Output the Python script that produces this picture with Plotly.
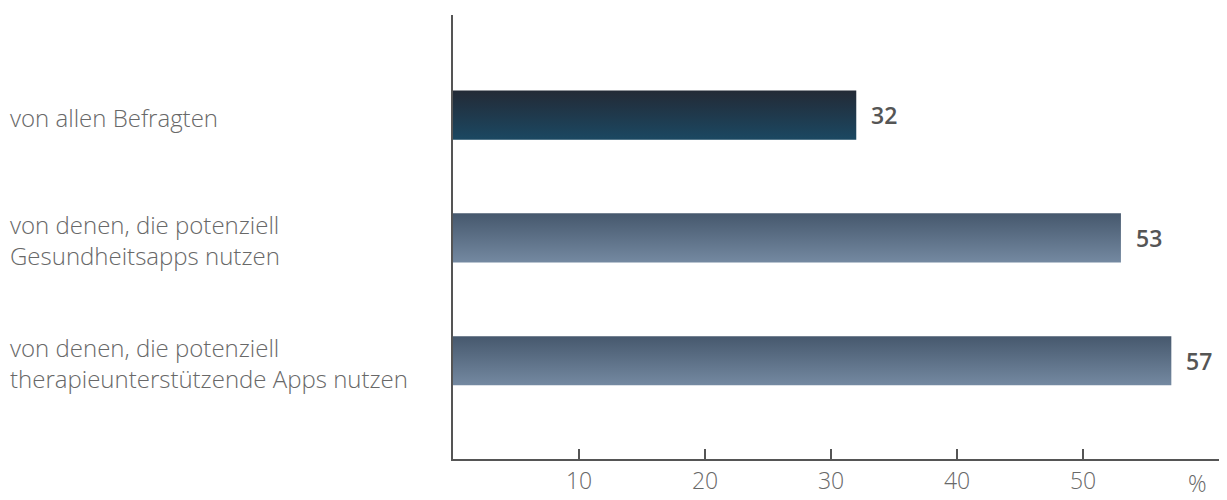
import plotly.graph_objects as go

# Data
categories = [
    "von allen Befragten",
    "von denen, die potenziell<br>Gesundheitsapps nutzen",
    "von denen, die potenziell<br>therapieunterstützende Apps nutzen",
]
values = [32, 53, 57]
tick_values = [10, 20, 30, 40, 50]
tick_labels = ["10", "20", "30", "40", "50"]
unit_label = "%"

# Styles
gradients = [
    ("#232a36", "#1b4862"),   # top, bottom
    ("#46586d", "#7489a1"),
    ("#46586d", "#7489a1"),
]
bar_half = 0.2
font_family = "Open Sans"
text_color = "#686868"
axis_color = "#555555"

fig = go.Figure()
for i, (cat, v) in enumerate(zip(categories, values)):
    top, bottom = gradients[i]
    y0, y1 = i - bar_half, i + bar_half
    fig.add_trace(go.Scatter(
        x=[0, v, v, 0, 0],
        y=[y0, y0, y1, y1, y0],
        mode="lines",
        line=dict(width=0),
        fill="toself",
        fillgradient=dict(type="vertical", colorscale=[[0, bottom], [1, top]]),
        hoverinfo="text",
        text=f"{cat.replace('<br>', ' ')}: {v}",
        showlegend=False,
    ))
    fig.add_annotation(
        x=v, y=i, text=f"{v}", showarrow=False,
        xanchor="left", xshift=13,
        font=dict(family=font_family, size=23, color="#555555", weight=600),
    )
    fig.add_annotation(
        x=0, y=i, xref="paper", text=cat, showarrow=False,
        xanchor="left", align="left", xshift=-445, yshift=-2,
        font=dict(family=font_family, size=24, color=text_color, weight=300),
    )

fig.add_annotation(
    x=60, y=0, yref="paper", text=unit_label, showarrow=False,
    xanchor="right", yanchor="top", yshift=-6,
    font=dict(family=font_family, size=23, color=text_color, weight=300),
)

fig.update_xaxes(
    range=[0, 61.1], showgrid=False, zeroline=False,
    showline=True, linecolor=axis_color, linewidth=2,
    ticks="inside", ticklen=10, tickwidth=2, tickcolor=axis_color,
    tickvals=tick_values, ticktext=tick_labels,
    tickfont=dict(family=font_family, size=23, color=text_color, weight=300),
)
fig.update_yaxes(
    range=[2.8, -0.815], showgrid=False, zeroline=False,
    showline=True, linecolor=axis_color, linewidth=2,
    showticklabels=False, ticks="",
)
fig.update_layout(
    width=1219, height=492,
    margin=dict(l=445, r=4, t=7, b=37),
    plot_bgcolor="white", paper_bgcolor="white",
    font=dict(family=font_family, color=text_color),
)
fig.write_html("out.html")
